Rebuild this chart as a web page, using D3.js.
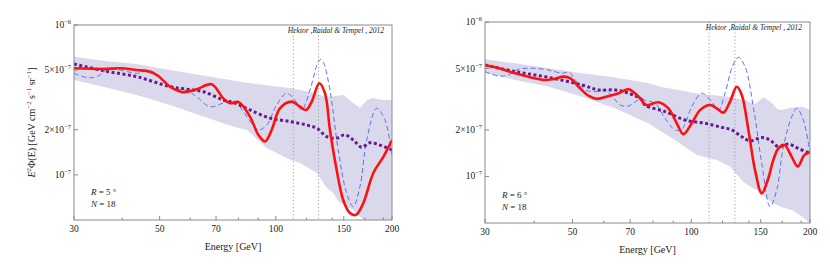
<!DOCTYPE html>
<html>
<head>
<meta charset="utf-8">
<script src="https://cdn.jsdelivr.net/npm/d3@7"></script>
<style>
  body { margin: 0; background: #fff; }
  text { font-family: "Liberation Serif", "DejaVu Serif", serif; fill: #222; }
</style>
</head>
<body>
<svg id="chart" width="830" height="272"></svg>
<script>
// flux values are in units of 1e-7 GeV cm^-2 s^-1 sr^-1, energies in GeV
const energyTicks = [30, 50, 70, 100, 150, 200];
const energyMinor = [40, 60, 80, 90, 120, 140, 170, 190];
const fluxTicks = [10, 5, 2, 1];
const fluxTickLabels = [['10', '\u22126'], ['5\u00d710', '\u22127'], ['2\u00d710', '\u22127'], ['10', '\u22127']];
const lineEnergies = [111, 129];

// R = 5 deg
const upper5 = [[30,6.15],[35.7,5.78],[43.6,5.50],[53.2,5.01],[64.9,4.6],[76.1,4.3],[85.7,4.09],[108.8,3.8],[122.6,3.57],[136,3.3],[149.3,3.41],[158.6,3.02],[165.2,2.80],[172.4,3.16],[178.7,3.26],[188,3.16],[200,3.16]];
const lower5 = [[30,4.30],[35.7,3.88],[43.6,3.41],[53.2,2.93],[64.9,2.45],[78.4,2.08],[84.1,2.0],[94.7,1.51],[108.8,1.26],[115.5,1.20],[127.6,1.03],[135.5,0.82],[140.6,0.76],[146.6,0.65],[158.6,0.584],[168.8,0.5],[180,0.45],[200,0.42]];
const red5 = [[30,5.14],[35.7,5.09],[39.5,5.14],[43.6,5.01],[47.2,4.88],[49.6,4.57],[53.2,3.88],[57.6,3.56],[62.4,3.73],[68.2,4.02],[73.1,3.24],[76.1,3.01],[80,3.07],[85.7,2.45],[90.1,1.85],[93.8,1.67],[97.6,2.0],[102.5,2.78],[109.9,3.08],[115.5,2.85],[119.7,2.71],[123.9,3.08],[129.6,4.09],[134.1,3.5],[138.1,2.0],[143.2,1.14],[149.5,0.68],[155.6,0.556],[161.3,0.541],[168.5,0.647],[178.9,1.03],[189.9,1.32],[200,1.71]];
const blue5 = [[30,4.76],[32.4,4.46],[34.4,4.52],[36.5,5.01],[39.5,5.01],[43.6,4.76],[47.2,4.96],[51.1,4.35],[54.2,3.78],[58.8,3.65],[62.4,3.32],[67.5,2.85],[73.1,3.01],[78.4,3.08],[82.4,2.64],[90.1,2.0],[94.7,2.15],[100.5,2.93],[106.7,3.5],[112.1,3.16],[116.7,2.71],[122.6,3.69],[128.5,5.6],[130.8,5.9],[133,5.6],[138.1,3.69],[145.1,1.47],[152.6,0.755],[158.7,0.614],[165.2,0.836],[172,1.71],[182.5,2.78],[191.8,2.33],[200,1.32]];
const purple5 = [[30,5.5],[35.7,4.96],[43.6,4.52],[53.2,3.88],[58.8,3.73],[64.9,3.59],[73.1,3.16],[78.4,3.01],[85.7,2.71],[96.6,2.39],[108.8,2.27],[120.2,2.15],[127.6,2.05],[135.5,1.8],[143.8,1.76],[151,1.85],[158.7,1.71],[166.9,1.53],[175.4,1.64],[186.1,1.58],[200,1.47]];

// R = 6 deg
const upper6 = [[30,5.74],[35.8,5.40],[43.5,5.02],[52.9,4.66],[64.2,4.38],[78,4.01],[84.1,3.8],[92.7,3.63],[102.2,3.46],[112.7,3.37],[124.2,3.28],[136.9,3.13],[145.1,2.95],[152.3,3.26],[160,3.0],[166,2.7],[170.5,2.7],[179.8,2.8],[190.6,2.83],[200,2.7]];
const lower6 = [[30,4.70],[35.8,4.21],[43.5,3.81],[52.9,3.28],[64.2,2.76],[78,2.2],[82,2.03],[90.1,1.75],[103.3,1.38],[116,1.28],[125.4,1.16],[135.5,0.92],[143.6,0.84],[149.4,0.8],[158.4,0.69],[167.9,0.64],[181.5,0.6],[190.6,0.55],[200,0.5]];
const red6 = [[30,5.27],[32.5,5.02],[35.8,4.66],[39.5,4.36],[42.7,4.21],[44.8,4.28],[47.5,4.43],[49.4,4.32],[51.8,3.81],[55,3.32],[57.7,3.18],[61.8,3.32],[65.5,3.46],[69.4,3.67],[73.6,3.28],[77,2.9],[82.5,3.02],[87.5,2.76],[91.9,2.21],[95.5,1.88],[100.3,2.21],[105.3,2.69],[111.6,2.9],[116,2.76],[120.6,2.59],[125.4,3.05],[130.4,3.81],[134.3,3.37],[139.6,2.0],[145.1,1.1],[150.9,0.778],[156.3,0.949],[161.5,1.28],[166.3,1.52],[172.2,1.6],[179.8,1.34],[186.2,1.16],[193.6,1.38],[200,1.43]];
const blue6 = [[30,4.77],[32.5,4.47],[34.4,4.54],[36.5,4.94],[39.5,5.02],[43.5,4.89],[47,4.66],[49,4.73],[50.8,4.21],[53.9,3.63],[57.2,3.54],[60.5,3.63],[63.6,3.21],[66.1,2.9],[69.4,2.86],[73.6,3.13],[77,3.1],[80.9,2.98],[85.8,2.38],[91,2.0],[94.6,2.02],[100.3,2.83],[106.3,3.46],[112.7,3.05],[117.2,2.69],[121.8,3.46],[127.1,5.14],[131.6,5.91],[136.9,5.14],[143.6,2.83],[150.9,1.22],[158.4,0.638],[164.7,0.818],[171.2,1.56],[179.8,2.44],[185.2,2.76],[192.4,2.32],[200,1.41]];
const purple6 = [[30,5.27],[35.8,4.77],[43.5,4.38],[52.9,3.91],[58.3,3.63],[64.2,3.63],[69.4,3.46],[75,3.13],[76.3,2.9],[85.8,2.63],[96.4,2.32],[108.4,2.21],[119.5,2.08],[126.7,2.0],[134.3,1.81],[140.9,1.7],[150.9,1.79],[158.4,1.72],[166.3,1.56],[176.3,1.62],[186.9,1.52],[200,1.41]];

const svg = d3.select('#chart');

// write text with superscripts: parts = [text, sup, italic, back to baseline]
function richText(sel, parts) {
  parts.forEach(function(p) {
    const t = sel.append('tspan').text(p[0]);
    if (p[1]) t.attr('dy', -4).attr('font-size', '0.68em');
    if (p[2]) t.attr('font-style', 'italic');
    if (p[3]) t.attr('dy', 4);
  });
}

function drawPanel(p) {
  const x = d3.scaleLog().domain([30, 200]).range([p.x0, p.x1]);
  const y = d3.scaleLog().domain([0.5, 10]).range([p.y1, p.y0]);
  const g = svg.append('g');

  g.append('clipPath').attr('id', 'clip' + p.id)
    .append('rect')
    .attr('x', p.x0).attr('y', p.y0)
    .attr('width', p.x1 - p.x0).attr('height', p.y1 - p.y0);
  const plot = g.append('g').attr('clip-path', 'url(#clip' + p.id + ')');

  const line = d3.line().x(d => x(d[0])).y(d => y(d[1]));

  // uncertainty band
  plot.append('path')
    .attr('d', line.curve(d3.curveLinearClosed)(p.upper.concat(p.lower.slice().reverse())))
    .attr('fill', '#d9d9eb');

  // line positions 111 and 129 GeV
  plot.selectAll('.vline')
    .data(lineEnergies)
    .enter()
    .append('line')
    .attr('x1', d => x(d)).attr('x2', d => x(d))
    .attr('y1', p.y0).attr('y2', p.y1)
    .attr('stroke', '#a0a0a0')
    .attr('stroke-width', 1)
    .attr('stroke-dasharray', '1.2,2.3');

  const smooth = d3.line().x(d => x(d[0])).y(d => y(d[1])).curve(d3.curveCatmullRom.alpha(0.5));

  plot.append('path').attr('d', smooth(p.blue))
    .attr('fill', 'none').attr('stroke', '#5f70f2')
    .attr('stroke-width', 1).attr('stroke-dasharray', '5,3');
  plot.append('path').attr('d', smooth(p.purple))
    .attr('fill', 'none').attr('stroke', '#6a1a8c')
    .attr('stroke-width', 3).attr('stroke-dasharray', '3,2.5');
  plot.append('path').attr('d', smooth(p.red))
    .attr('fill', 'none').attr('stroke', '#ff1010')
    .attr('stroke-width', 2.6);

  // frame
  g.append('rect')
    .attr('x', p.x0).attr('y', p.y0)
    .attr('width', p.x1 - p.x0).attr('height', p.y1 - p.y0)
    .attr('fill', 'none').attr('stroke', '#8a8a8a').attr('stroke-width', 1);

  // x ticks
  g.selectAll('.xt').data(energyTicks).enter().append('line')
    .attr('x1', d => x(d)).attr('x2', d => x(d))
    .attr('y1', p.y1).attr('y2', p.y1 - 4)
    .attr('stroke', '#8a8a8a');
  g.selectAll('.xm').data(energyMinor).enter().append('line')
    .attr('x1', d => x(d)).attr('x2', d => x(d))
    .attr('y1', p.y1).attr('y2', p.y1 - 2.5)
    .attr('stroke', '#8a8a8a');
  g.selectAll('.xl').data(energyTicks).enter().append('text')
    .attr('x', d => x(d)).attr('y', p.y1 + 12)
    .attr('text-anchor', 'middle').attr('font-size', 9.5)
    .text(d => d);

  // y ticks
  g.selectAll('.yt').data(fluxTicks).enter().append('line')
    .attr('x1', p.x0).attr('x2', p.x0 + 4)
    .attr('y1', d => y(d)).attr('y2', d => y(d))
    .attr('stroke', '#8a8a8a');
  fluxTicks.forEach(function(v, i) {
    const t = g.append('text')
      .attr('x', p.x0 - 3).attr('y', y(v) + 3)
      .attr('text-anchor', 'end').attr('font-size', 9.5);
    richText(t, [[fluxTickLabels[i][0]], [fluxTickLabels[i][1], true]]);
  });

  // axis label
  g.append('text')
    .attr('x', (p.x0 + p.x1) / 2).attr('y', p.y1 + 30)
    .attr('text-anchor', 'middle').attr('font-size', 10)
    .text('Energy [GeV]');

  if (p.yLabel) {
    const t = g.append('text')
      .attr('transform', 'translate(' + (p.x0 - 39) + ',' + ((p.y0 + p.y1) / 2) + ') rotate(-90)')
      .attr('text-anchor', 'middle').attr('font-size', 10);
    richText(t, [['E', false, true], ['2', true], ['\u03a6(E) [GeV cm', false, false, true], ['\u22122', true],
      [' s', false, false, true], ['\u22121', true], [' sr', false, false, true], ['\u22121', true], [']', false, false, true]]);
  }

  // reference
  g.append('text')
    .attr('x', p.x1 - 8).attr('y', p.y0 + 8)
    .attr('text-anchor', 'end').attr('font-size', 7.5).attr('font-style', 'italic')
    .text('Hektor ,Raidal & Tempel , 2012');

  // R, N
  const r = g.append('text').attr('x', p.x0 + 17).attr('y', p.y1 - 25).attr('font-size', 9);
  richText(r, [['R', false, true], [' = ' + p.radius + ' \u00b0']]);
  const n = g.append('text').attr('x', p.x0 + 17).attr('y', p.y1 - 13).attr('font-size', 9);
  richText(n, [['N', false, true], [' = 18']]);
}

drawPanel({ id: 5, x0: 74, x1: 392, y0: 25, y1: 220, upper: upper5, lower: lower5,
  red: red5, blue: blue5, purple: purple5, radius: 5, yLabel: true });
drawPanel({ id: 6, x0: 485, x1: 810, y0: 22, y1: 223, upper: upper6, lower: lower6,
  red: red6, blue: blue6, purple: purple6, radius: 6, yLabel: false });
</script>
</body>
</html>
